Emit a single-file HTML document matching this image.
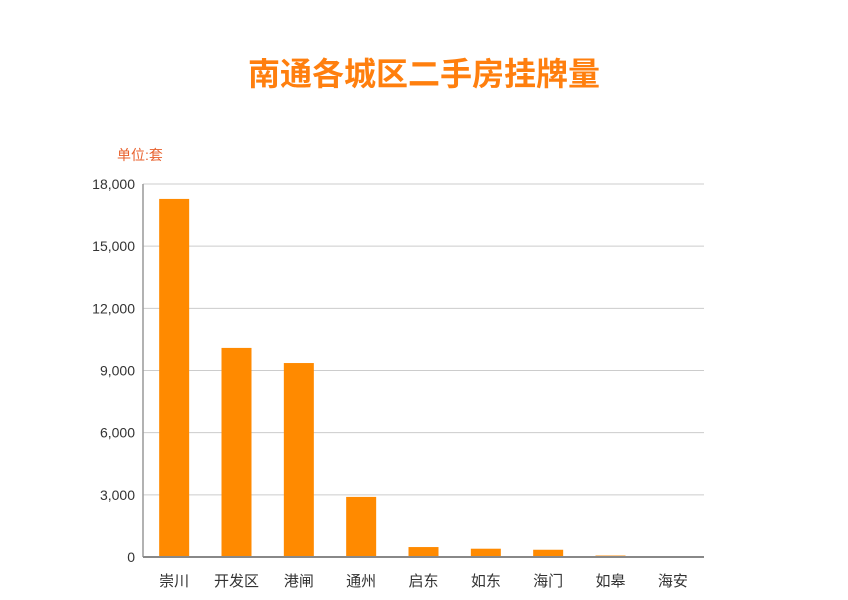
<!DOCTYPE html>
<html><head><meta charset="utf-8"><style>
body{margin:0;background:#fff;}
svg text{font-family:"Liberation Sans","Noto Sans CJK SC",sans-serif;}
</style></head><body>
<svg width="848" height="595">
<text x="424" y="85" text-anchor="middle" font-size="32" font-weight="bold" fill="#ff7f0e">南通各城区二手房挂牌量</text>
<text x="117" y="160" font-size="14" fill="#e8602c">单位:套</text>
<g id="grid"></g><g id="bars"></g><g id="axes"></g>
</svg>
<script>
const categories=["崇川","开发区","港闸","通州","启东","如东","海门","如皋","海安"];
const values=[17280,10090,9360,2900,480,400,350,70,10];
const yTicks=[0,3000,6000,9000,12000,15000,18000];
const yTickLabels=["0","3,000","6,000","9,000","12,000","15,000","18,000"];
const ns="http://www.w3.org/2000/svg";
const x0=143,x1=704,yb=557,yt=184,ymax=18000;
const y=v=>yb-(v/ymax)*(yb-yt);
const band=(x1-x0)/categories.length;
const xc=i=>x0+band*(i+0.5);
function mk(t,a,p){const e=document.createElementNS(ns,t);for(const k in a)e.setAttribute(k,a[k]);p.appendChild(e);return e;}
const grid=document.getElementById('grid'),bars=document.getElementById('bars'),axes=document.getElementById('axes');
yTicks.forEach((v,i)=>{
 if(v>0){const l=mk('line',{x1:x0,x2:x1,y1:y(v),y2:y(v),stroke:'#ccc','stroke-width':1},grid);
 
 }
 const t=mk('text',{x:x0-8,y:y(v)+5,'text-anchor':'end','font-size':14,fill:'#333'},axes);
 t.textContent=yTickLabels[i];
 
 
});
categories.forEach((c,i)=>{
 const r=mk('rect',{x:xc(i)-15,y:y(values[i]),width:30,height:yb-y(values[i]),fill:'#ff8a00'},bars);
 
 
 const t=mk('text',{x:xc(i),y:586,'text-anchor':'middle','font-size':15,fill:'#333'},axes);
 t.textContent=c;
 
 
});
const ya=mk('line',{x1:x0,x2:x0,y1:yt,y2:yb,stroke:'#999','stroke-width':1.5},axes);


const xa=mk('line',{x1:x0,x2:x1,y1:yb,y2:yb,stroke:'#888','stroke-width':2},axes);


</script>
</body></html>
